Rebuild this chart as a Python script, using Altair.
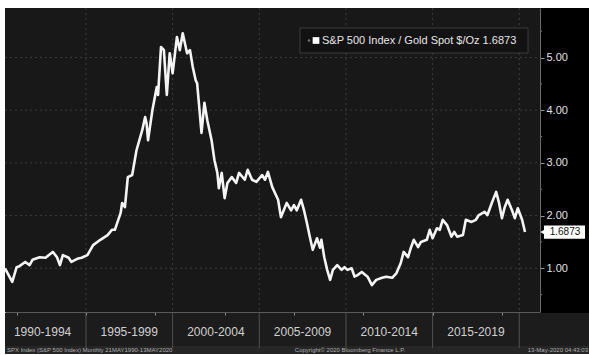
import altair as alt
import pandas as pd

# ---- data ----
months = [
    "1990-05","1990-10","1991-01","1991-03","1991-07","1991-10","1991-12","1992-05","1992-09",
    "1993-02","1993-05","1993-07","1993-09","1994-01","1994-03","1994-07","1994-10","1995-02",
    "1995-06","1995-11","1996-04","1996-07","1996-09","1997-01","1997-02","1997-04","1997-06",
    "1997-09","1997-12","1998-04","1998-06","1998-07","1998-08","1998-11","1999-02","1999-03",
    "1999-05","1999-07","1999-09","1999-11","2000-01","2000-04","2000-06","2000-08","2000-11",
    "2001-01","2001-03","2001-05","2001-06","2001-09","2001-11","2002-01","2002-04","2002-06",
    "2002-08","2002-09","2002-11","2003-01","2003-03","2003-06","2003-09","2003-11","2004-03",
    "2004-05","2004-08","2004-11","2005-03","2005-05","2005-07","2005-10","2006-02","2006-04",
    "2006-08","2006-11","2007-01","2007-03","2007-06","2007-08","2007-10","2007-12","2008-02",
    "2008-05","2008-07","2008-08","2008-10","2008-12","2009-02","2009-04","2009-07","2009-10",
    "2009-12","2010-02","2010-05","2010-07","2010-09","2010-12","2011-04","2011-07","2011-10",
    "2012-02","2012-05","2012-09","2012-12","2013-03","2013-05","2013-08","2013-10","2013-12",
    "2014-03","2014-05","2014-09","2014-11","2015-01","2015-04","2015-06","2015-08","2015-11",
    "2016-02","2016-04","2016-06","2016-10","2016-12","2017-04","2017-07","2017-09","2018-01",
    "2018-03","2018-06","2018-09","2018-11","2019-01","2019-03","2019-05","2019-08","2019-10",
    "2019-12","2020-03","2020-05",
]
ratio = [
    1.00,0.74,1.02,1.04,1.12,1.06,1.16,1.21,1.20,
    1.31,1.21,1.06,1.25,1.20,1.12,1.18,1.20,1.25,
    1.44,1.54,1.63,1.73,1.73,2.05,2.24,2.16,2.73,
    2.77,3.24,3.62,3.87,3.75,3.43,4.00,4.44,4.29,
    5.20,5.14,4.29,5.08,4.70,5.39,5.14,5.46,5.08,
    5.14,4.82,4.57,4.51,3.57,4.14,3.81,3.43,3.05,
    2.81,2.52,2.81,2.33,2.62,2.73,2.62,2.81,2.68,
    2.87,2.68,2.64,2.77,2.68,2.83,2.54,2.30,1.97,
    2.24,2.10,2.20,2.10,2.30,2.10,1.86,1.60,1.35,
    1.57,1.39,1.54,1.21,0.97,0.78,0.97,1.06,0.97,
    1.02,0.97,1.00,0.84,0.87,0.93,0.84,0.68,0.78,
    0.82,0.84,0.82,0.91,1.10,1.31,1.21,1.39,1.54,
    1.40,1.50,1.54,1.73,1.57,1.76,1.73,1.92,1.82,
    1.60,1.69,1.60,1.63,1.92,1.88,1.92,2.01,2.07,
    2.01,2.24,2.45,2.24,1.95,2.16,2.30,2.10,1.95,
    2.14,1.92,1.6873,
]

period_labels = ["1990-1994", "1995-1999", "2000-2004", "2005-2009", "2010-2014", "2015-2019"]
period_mids = ["1992-07-01", "1997-07-01", "2002-07-01", "2007-07-01", "2012-07-01", "2017-07-01"]
period_bounds = ["1995-01-01", "2000-01-01", "2005-01-01", "2010-01-01", "2015-01-01", "2020-01-01"]
y_ticks = [1, 2, 3, 4, 5]
y_minor = [0.5, 1.5, 2.5, 3.5, 4.5, 5.5]
year_ticks = list(range(1991, 2021))
legend_text = "S&P 500 Index / Gold Spot $/Oz 1.6873"
footer_left = "SPX Index (S&P 500 Index)   Monthly 21MAY1990-13MAY2020"
footer_mid = "Copyright\u00a9 2020 Bloomberg Finance L.P."
footer_right = "13-May-2020 04:43:03"
last_label = "1.6873"

# ---- tables ----
df = pd.DataFrame({"date": [m + "-01" for m in months], "ratio": ratio})
periods = pd.DataFrame({"label": period_labels, "mid": period_mids})
bounds = pd.DataFrame({"d": period_bounds})
grid_y = pd.DataFrame({"v": y_ticks})
minor = pd.DataFrame({"v": y_minor})
last = pd.DataFrame({"date": [df["date"].iloc[-1]], "v": [ratio[-1]], "lo": [ratio[-1] - 0.125],
                     "hi": [ratio[-1] + 0.125], "t": [last_label]})
one = pd.DataFrame({"k": [0]})

W, H = 535, 304
xscale = alt.Scale(domain=[alt.DateTime(year=1990, month=5, date=1),
                           alt.DateTime(year=2021, month=3, date=13)], nice=False)
yscale = alt.Scale(domain=[0.17, 5.94], nice=False, zero=False)

X = alt.X("date:T", scale=xscale,
          axis=alt.Axis(values=[alt.DateTime(year=y, month=1, date=1) for y in year_ticks],
                        labels=False, title=None, grid=False, tickSize=3, tickColor="#8a8a8a",
                        domainColor="#5a5a5a", zindex=1))
Y = alt.Y("ratio:Q", scale=yscale,
          axis=alt.Axis(orient="right", values=y_ticks, format=".2f", title=None, grid=False,
                        labelColor="#e0e0e0", labelFontSize=11, labelFont="Liberation Sans",
                        tickColor="#9a9a9a", tickSize=4, labelPadding=2,
                        domainColor="#6a6a6a", zindex=1))

base_one = alt.Chart(one)

right_panel = base_one.mark_rect(color="#000000").encode(
    x=alt.value(W), x2=alt.value(W + 49), y=alt.value(0), y2=alt.value(H + 1))
bottom_band = base_one.mark_rect(color="#1c1c1c").encode(
    x=alt.value(0), x2=alt.value(W + 49), y=alt.value(H + 1), y2=alt.value(H + 34))
footer_band = base_one.mark_rect(color="#262626").encode(
    x=alt.value(0), x2=alt.value(W + 49), y=alt.value(H + 34), y2=alt.value(H + 42))

hgrid = alt.Chart(grid_y).mark_rule(color="#3c3c3c", strokeDash=[2, 3], strokeWidth=1).encode(
    y=alt.Y("v:Q", scale=yscale), x=alt.value(0), x2=alt.value(W))
vgrid = alt.Chart(bounds).mark_rule(color="#3c3c3c", strokeDash=[2, 3], strokeWidth=1).encode(
    x=alt.X("d:T", scale=xscale), y=alt.value(0), y2=alt.value(H))
seps = alt.Chart(bounds).mark_rule(color="#505050", strokeWidth=1).encode(
    x=alt.X("d:T", scale=xscale), y=alt.value(H), y2=alt.value(H + 36))
minor_ticks = alt.Chart(minor).mark_rule(color="#7a7a7a").encode(
    y=alt.Y("v:Q", scale=yscale), x=alt.value(W), x2=alt.value(W + 2))

line = alt.Chart(df).mark_line(color="#f4f4f4", strokeWidth=2.6, interpolate="linear",
                               strokeJoin="round").encode(x=X, y=Y)

legend_box = base_one.mark_rect(color="#121212", stroke="#3a3a3a", strokeWidth=1).encode(
    x=alt.value(295), x2=alt.value(523), y=alt.value(20), y2=alt.value(45))
legend_dot = base_one.mark_circle(color="#777777", size=6, opacity=1).encode(
    x=alt.value(304), y=alt.value(32.5))
legend_sq = base_one.mark_square(color="#ffffff", size=45, opacity=1).encode(
    x=alt.value(311), y=alt.value(32.5))
legend_txt = base_one.mark_text(text=legend_text, align="left", baseline="middle",
                                color="#e6e6e6", fontSize=11, font="Liberation Sans").encode(
    x=alt.value(317), y=alt.value(33))

period_txt = alt.Chart(periods).mark_text(baseline="middle", color="#d0d0d0", fontSize=12,
                                          font="Liberation Sans").encode(
    x=alt.X("mid:T", scale=xscale), y=alt.value(H + 20), text="label:N")

f_left = base_one.mark_text(text=footer_left, align="left", baseline="middle",
                            color="#b0b0b0", fontSize=6, font="Liberation Sans").encode(
    x=alt.value(2), y=alt.value(H + 38))
f_mid = base_one.mark_text(text=footer_mid, align="center", baseline="middle",
                           color="#b0b0b0", fontSize=6, font="Liberation Sans").encode(
    x=alt.value(345), y=alt.value(H + 38))
f_right = base_one.mark_text(text=footer_right, align="right", baseline="middle",
                             color="#b0b0b0", fontSize=6, font="Liberation Sans").encode(
    x=alt.value(W + 48), y=alt.value(H + 38))

val_box = alt.Chart(last).mark_rect(color="#ffffff").encode(
    y=alt.Y("lo:Q", scale=yscale), y2="hi:Q", x=alt.value(W + 4), x2=alt.value(W + 45))
val_arrow = alt.Chart(last).mark_point(shape="triangle-left", filled=True, color="#ffffff",
                                       size=40, opacity=1).encode(
    y=alt.Y("v:Q", scale=yscale), x=alt.value(W + 3))
val_txt = alt.Chart(last).mark_text(color="#111111", fontSize=10, baseline="middle",
                                    align="center", font="Liberation Sans").encode(
    y=alt.Y("v:Q", scale=yscale), x=alt.value(W + 25), text="t:N")

chart = alt.layer(
    right_panel, bottom_band, footer_band, hgrid, vgrid, seps, minor_ticks,
    line, legend_box, legend_dot, legend_sq, legend_txt, period_txt,
    f_left, f_mid, f_right, val_box, val_arrow, val_txt,
).properties(
    width=W, height=H,
    autosize=alt.AutoSizeParams(type="none"),
    padding={"left": 5, "top": 8, "right": 49, "bottom": 43},
    background="#ffffff",
).configure_view(fill="#181818", stroke=None)

chart.save("out.html", embed_options={"renderer": "svg", "actions": False})
